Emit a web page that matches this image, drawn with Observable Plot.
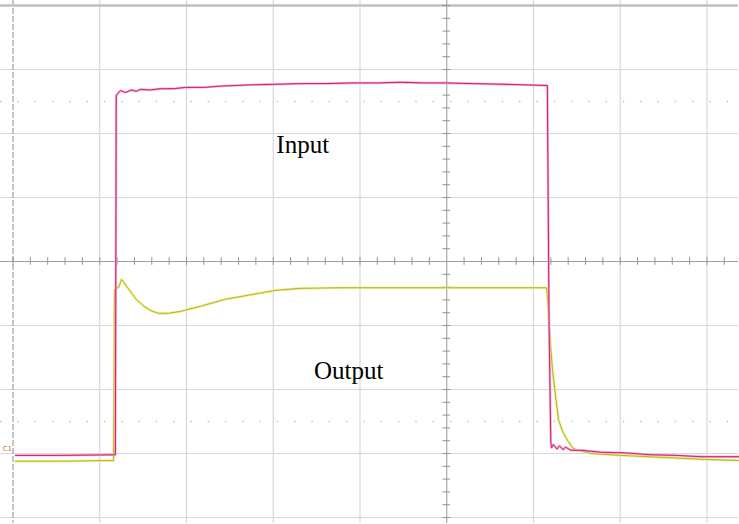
<!DOCTYPE html>
<html>
<head>
<meta charset="utf-8">
<script src="https://cdn.jsdelivr.net/npm/d3@7"></script>
<script src="https://cdn.jsdelivr.net/npm/@observablehq/plot@0.6"></script>
<style>
  html, body { margin: 0; padding: 0; background: #fff; }
  svg { display: block; }
</style>
</head>
<body>
<div id="chart"></div>
<script>
// Units: screen divisions (x: time/div, y: volts/div), centre of the screen = (0, 0)
const gridX = [-4, -3, -2, -1, 1, 2, 3];
const gridY = [-4, -3, -2, -1, 1, 2, 3];
const markerY = [2.5, -2.5];

const inputT = [-4.97, -4.45, -3.82, -3.81, -3.79, -3.76, -3.70, -3.64, -3.58, -3.53, -3.42, -3.30, -3.15, -3.01, -2.80, -2.61, -2.26, -1.95, -1.68, -1.40, -1.11, -0.80, -0.53, -0.25, 0, 0.30, 0.62, 0.90, 1.16, 1.18, 1.20, 1.21, 1.23, 1.27, 1.30, 1.34, 1.37, 1.43, 1.55, 1.78, 2.05, 2.35, 2.65, 2.93, 3.38];
const inputV = [-3.03, -3.03, -3.02, 2.59, 2.63, 2.67, 2.64, 2.68, 2.66, 2.69, 2.68, 2.70, 2.70, 2.72, 2.72, 2.74, 2.76, 2.77, 2.78, 2.78, 2.79, 2.79, 2.80, 2.79, 2.79, 2.78, 2.77, 2.76, 2.75, -1.0, -2.84, -2.91, -2.86, -2.93, -2.88, -2.94, -2.90, -2.95, -2.95, -2.98, -2.99, -3.02, -3.03, -3.05, -3.05];

const outputT = [-4.97, -4.45, -3.84, -3.83, -3.81, -3.78, -3.76, -3.75, -3.73, -3.69, -3.64, -3.58, -3.49, -3.41, -3.32, -3.21, -3.07, -2.84, -2.55, -2.26, -1.97, -1.68, -1.22, 1.15, 1.165, 1.19, 1.22, 1.26, 1.29, 1.34, 1.40, 1.45, 1.51, 1.66, 2.01, 2.47, 2.93, 3.38];
const outputV = [-3.12, -3.12, -3.11, -0.45, -0.42, -0.40, -0.32, -0.28, -0.31, -0.39, -0.48, -0.59, -0.70, -0.77, -0.81, -0.81, -0.78, -0.70, -0.59, -0.52, -0.45, -0.42, -0.41, -0.41, -0.61, -1.19, -1.70, -2.17, -2.48, -2.67, -2.81, -2.91, -2.95, -3.00, -3.03, -3.06, -3.09, -3.11];

const labels = ["Input", "Output"];
const labelT = [-1.66, -1.13];
const labelV = [1.70, -1.83];

const inputData = inputT.map((t, i) => ({t, v: inputV[i]}));
const outputData = outputT.map((t, i) => ({t, v: outputV[i]}));
const labelData = labels.map((s, i) => ({s, t: labelT[i], v: labelV[i]}));
const minorX = d3.range(-25, 17).map(i => i / 5).filter(d => d !== 0);
const minorY = d3.range(-20, 21).map(i => i / 5).filter(d => d !== 0);

const chart = Plot.plot({
  width: 739,
  height: 524,
  x: {domain: [-5, 3.375], range: [12.5, 739], axis: null},
  y: {domain: [-4, 4], range: [517, 5], axis: null},
  marks: [
    Plot.ruleX(gridX, {stroke: "#d8d8d8", strokeWidth: 1.2}),
    Plot.ruleY(gridY, {stroke: "#d8d8d8", strokeWidth: 1.2}),
    Plot.ruleY(markerY, {stroke: "#c4c4c4", strokeWidth: 1.5, strokeDasharray: "1.5,15.8"}),
    Plot.ruleX([-5], {stroke: "#a0a0a0", strokeWidth: 1.2, strokeDasharray: "6,2"}),
    Plot.ruleY([4], {stroke: "#c0c0c0", strokeWidth: 2.5}),
    Plot.ruleX([0], {stroke: "#a0a0a0", strokeWidth: 1.1}),
    Plot.ruleY([0], {stroke: "#a0a0a0", strokeWidth: 1.1}),
    Plot.ruleX(minorX, {y1: -0.06, y2: 0.06, stroke: "#959595", strokeWidth: 1}),
    Plot.ruleY(minorY, {x1: -0.045, x2: 0.045, stroke: "#959595", strokeWidth: 1}),
    Plot.line(outputData, {x: "t", y: "v", stroke: "#f0f08c", strokeWidth: 2.6, strokeLinejoin: "round"}),
    Plot.line(outputData, {x: "t", y: "v", stroke: "#b2b03a", strokeWidth: 1, strokeLinejoin: "round"}),
    Plot.line(inputData, {x: "t", y: "v", stroke: "#f6acd0", strokeWidth: 2.4, strokeLinejoin: "round"}),
    Plot.line(inputData, {x: "t", y: "v", stroke: "#c8206e", strokeWidth: 1, strokeLinejoin: "round"}),
    Plot.text(labelData, {x: "t", y: "v", text: "s", textAnchor: "middle", lineAnchor: "bottom",
      fontFamily: "Liberation Serif", fontSize: 25, fill: "#000"}),
    Plot.text(["C1"], {x: -5, y: -2.92, text: d => d, textAnchor: "end", dx: -1, fontSize: 7,
      fontFamily: "DejaVu Sans", fill: "#c07840"})
  ]
});
document.getElementById("chart").appendChild(chart);
</script>
</body>
</html>
